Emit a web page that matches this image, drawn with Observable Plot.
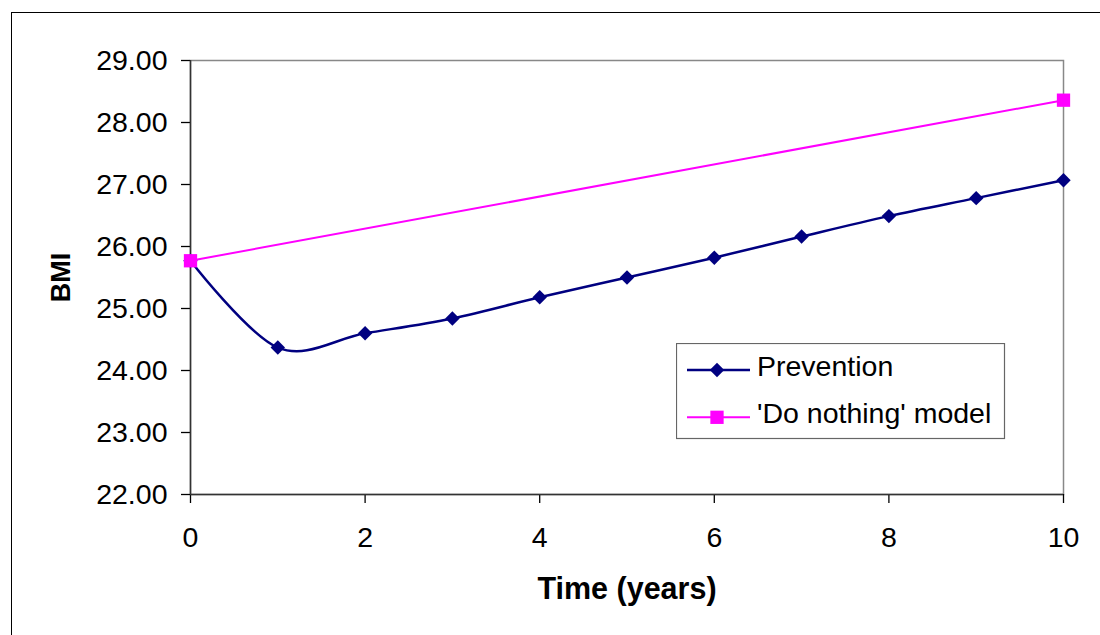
<!DOCTYPE html>
<html>
<head>
<meta charset="utf-8">
<script src="https://cdn.jsdelivr.net/npm/d3@7"></script>
<script src="https://cdn.jsdelivr.net/npm/@observablehq/plot@0.6"></script>
<style>
  html, body { margin: 0; padding: 0; background: #fff; }
  #wrap { position: relative; width: 1100px; height: 635px; overflow: hidden;
          font-family: "Liberation Sans", Arial, sans-serif; }
  #outer { position: absolute; left: 11px; top: 12px; width: 1300px; height: 900px;
           border: 1px solid #000; box-sizing: border-box; pointer-events: none; }
  #legend { position: absolute; left: 676px; top: 343px; }
</style>
</head>
<body>
<div id="wrap"><div id="outer"></div></div>
<script>
// BMI projections over ten years
const years = [0, 1, 2, 3, 4, 5, 6, 7, 8, 9, 10];
const prevention = [25.77, 24.37, 24.60, 24.84, 25.18, 25.50, 25.82, 26.16, 26.49, 26.78, 27.07];
const doNothingYears = [0, 10];
const doNothing = [25.77, 28.36];

const xTicks = [0, 2, 4, 6, 8, 10];
const yTicks = [22, 23, 24, 25, 26, 27, 28, 29];

const seriesNames = ["Prevention", "'Do nothing' model"];
const seriesColors = ["#000080", "#ff00ff"];
const seriesSymbols = ["diamond2", "square"];
const seriesRadius = [6.5, 7.5];

const prevRows = years.map((t, i) => ({t, bmi: prevention[i]}));
const doRows = doNothingYears.map((t, i) => ({t, bmi: doNothing[i]}));

const font = '"Liberation Sans", Arial, sans-serif';

const chart = Plot.plot({
  width: 1100,
  height: 635,
  marginLeft: 190,
  marginRight: 37,
  marginTop: 60,
  marginBottom: 141,
  style: {fontFamily: font, fontSize: "28.5px", color: "#000", background: "transparent", overflow: "visible"},
  x: {domain: [0, 10]},
  y: {domain: [22, 29]},
  marks: [
    Plot.frame({stroke: "#888", strokeWidth: 1.5}),
    Plot.axisY(yTicks, {tickSize: 9, tickPadding: 14, tickFormat: d3.format(".2f"), label: null, strokeWidth: 1.3}),
    Plot.axisX(xTicks, {tickSize: 9, tickPadding: 23, label: null, strokeWidth: 1.3}),
    Plot.ruleX([0], {stroke: "#333", strokeWidth: 1.5}),
    Plot.ruleY([22], {stroke: "#333", strokeWidth: 1.5}),
    Plot.line(prevRows, {x: "t", y: "bmi", curve: "cardinal", stroke: seriesColors[0], strokeWidth: 2.5}),
    Plot.dot(prevRows, {x: "t", y: "bmi", symbol: seriesSymbols[0], r: seriesRadius[0], fill: seriesColors[0], stroke: "none"}),
    Plot.line(doRows, {x: "t", y: "bmi", stroke: seriesColors[1], strokeWidth: 2}),
    Plot.dot(doRows, {x: "t", y: "bmi", symbol: seriesSymbols[1], r: seriesRadius[1], fill: seriesColors[1], stroke: "none"}),
    Plot.text(["BMI"], {frameAnchor: "left", dx: -129, rotate: -90, text: d => d,
      fontWeight: "bold", fontSize: 27, lineAnchor: "middle", textAnchor: "middle", fill: "#000"}),
    Plot.text(["Time (years)"], {frameAnchor: "bottom", dy: 95, text: d => d,
      fontWeight: "bold", fontSize: 30.5, lineAnchor: "middle", textAnchor: "middle", fill: "#000"})
  ]
});
document.getElementById("wrap").appendChild(chart);

// Boxed legend inside the plot area
const lg = d3.select("#wrap").append("svg")
  .attr("id", "legend").attr("width", 330).attr("height", 97)
  .style("font-family", font);
lg.append("rect").attr("x", 0.5).attr("y", 0.5).attr("width", 328).attr("height", 95)
  .attr("fill", "#fff").attr("stroke", "#666").attr("stroke-width", 1.2);
const symbolTypes = {diamond2: d3.symbolDiamond2, square: d3.symbolSquare};
seriesNames.forEach((name, i) => {
  const cy = 27 + i * 47.3;
  lg.append("line").attr("x1", 11).attr("x2", 74).attr("y1", cy).attr("y2", cy)
    .attr("stroke", seriesColors[i]).attr("stroke-width", i === 0 ? 2.5 : 2);
  lg.append("path")
    .attr("d", d3.symbol(symbolTypes[seriesSymbols[i]], Math.PI * seriesRadius[i] ** 2)())
    .attr("transform", `translate(41,${cy})`).attr("fill", seriesColors[i]);
  lg.append("text").attr("x", 81).attr("y", cy + 6).attr("font-size", 28.5).attr("fill", "#000").text(name);
});
</script>
</body>
</html>
